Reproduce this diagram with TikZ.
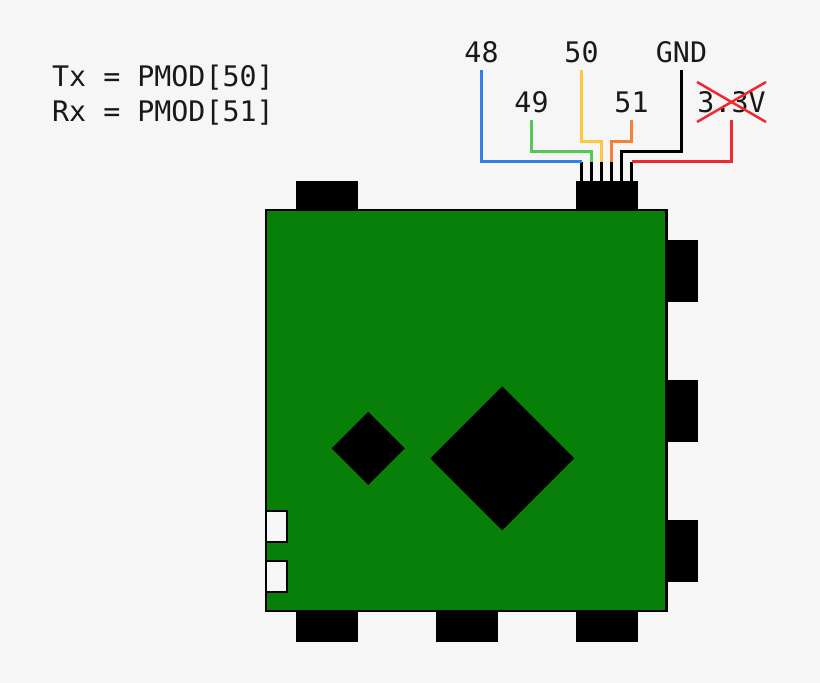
\documentclass[tikz,border=0pt]{standalone}
\usepackage{fontspec}
\setmainfont{DejaVu Sans Mono}
\usetikzlibrary{shapes.geometric}
\definecolor{bgc}{HTML}{F6F6F6}
\definecolor{boardc}{HTML}{087F08}
\definecolor{wblue}{HTML}{2F7FEF}
\definecolor{wgreen}{HTML}{55C855}
\definecolor{wyellow}{HTML}{FFC83C}
\definecolor{worange}{HTML}{F58232}
\definecolor{wred}{HTML}{EE2A2F}
\tikzset{
  lbl/.style={anchor=base,inner sep=0pt,font=\fontsize{28.3}{34}\selectfont,text=black!90},
  conn/.style={draw=black,fill=black,line width=1pt,minimum width=61pt,minimum height=30pt,inner sep=0pt,shape=rectangle},
  connv/.style={draw=black,fill=black,line width=1pt,minimum width=30pt,minimum height=61pt,inner sep=0pt,shape=rectangle},
  wire/.style={line width=2.5pt,miter limit=10},
  pin/.style={line width=2.4pt,draw=black},
  whitebox/.style={draw=black,fill=bgc,line width=2pt,minimum width=20.5pt,minimum height=30.5pt,inner sep=0pt,shape=rectangle},
}
\begin{document}
\begin{tikzpicture}[x=1pt,y=-1pt]
\useasboundingbox (0,0) rectangle (820,683);
\fill[bgc] (0,0) rectangle (820,683);
% connectors behind board
\node[conn] (ctl) at (326.5,196) {};
\node[conn] (ctr) at (606.5,196) {};
\node[connv] (cr1) at (682,271) {};
\node[connv] (cr2) at (682,411) {};
\node[connv] (cr3) at (682,551) {};
\node[conn] (cb1) at (326.5,626) {};
\node[conn] (cb2) at (466.5,626) {};
\node[conn] (cb3) at (606.5,626) {};
% board
\node[draw=black,fill=boardc,line width=2.2pt,minimum width=400.5pt,minimum height=400.5pt,inner sep=0pt,shape=rectangle] (board) at (466.3,410.5) {};
\node[whitebox] (w1) at (276.6,526.3) {};
\node[whitebox] (w2) at (276.6,576.3) {};
\node[diamond,fill=black,draw=black,line width=1pt,minimum width=143pt,minimum height=143pt,inner sep=0pt,aspect=1] (dbig) at (502.3,458.3) {};
\node[diamond,fill=black,draw=black,line width=1pt,minimum width=72pt,minimum height=72pt,inner sep=0pt,aspect=1] (dsmall) at (368.3,448.3) {};
% texts
\node[lbl,anchor=base west] (tx) at (52,86) {Tx = PMOD[50]};
\node[lbl,anchor=base west] (rx) at (52,121) {Rx = PMOD[51]};
\node[lbl] (l48) at (481.5,62) {48};
\node[lbl] (l49) at (531.5,112) {49};
\node[lbl] (l50) at (581.5,62) {50};
\node[lbl] (l51) at (631.5,112) {51};
\node[lbl] (lgnd) at (681.5,62) {GND};
\node[lbl] (l33) at (731.5,112) {3.3V};
% wire ends
\coordinate (e48) at (481.5,70);
\coordinate (e49) at (531.5,120);
\coordinate (e50) at (581.5,70);
\coordinate (e51) at (631.5,120);
\coordinate (egnd) at (681.5,70);
\coordinate (e33) at (731.5,120);
\coordinate (p1) at (581.5,161.5);
\coordinate (p2) at (591.5,161.5);
\coordinate (p3) at (601.5,161.5);
\coordinate (p4) at (611.5,161.5);
\coordinate (p5) at (621.5,161.5);
\coordinate (p6) at (631.5,161.5);
% pins
\foreach \p in {p1,p2,p3,p4,p5,p6} \draw[pin] (\p) -- (\p |- ctr.north);
% wires
\draw[wire,wblue] (e48) |- (p1);
\draw[wire,wgreen] (e49) |- (591.5,151.5) -- (p2);
\draw[wire,wyellow] (e50) |- (601.5,141.5) -- (p3);
\draw[wire,worange] (e51) |- (611.5,141.5) -- (p4);
\draw[wire,black] (egnd) |- (621.5,151.5) -- (p5);
\draw[wire,wred] (e33) |- (p6);
% cross-out
\coordinate (xa) at (697,82);
\coordinate (xb) at (766,122);
\coordinate (xc) at (697,122);
\coordinate (xd) at (766,82);
\draw[wire,wred] (xa) -- (xb);
\draw[wire,wred] (xc) -- (xd);
\end{tikzpicture}
\end{document}
